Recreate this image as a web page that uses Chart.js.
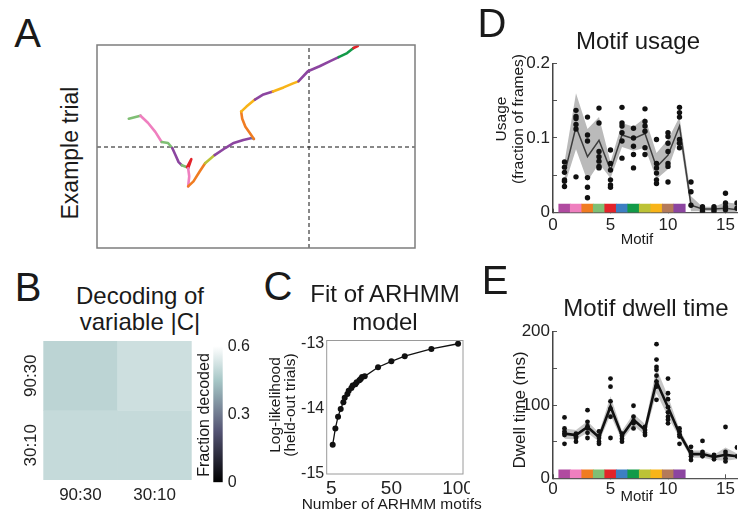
<!DOCTYPE html>
<html>
<head>
<meta charset="utf-8">
<script src="https://cdn.jsdelivr.net/npm/chart.js@4.4.1/dist/chart.umd.min.js"></script>
<style>
  html, body { margin: 0; padding: 0; background: #fff; }
  body { width: 740px; height: 512px; position: relative; overflow: hidden; }
  canvas { position: absolute; }
  .lbl { position: absolute; white-space: pre; text-align: center; font-family: 'Liberation Sans', Arial, sans-serif; color: #1a1a1a; }
</style>
</head>
<body>
<script>
'use strict';

// motif colours (strip under D / E, and the trajectory in A)
const motifColors = ['#b04aa0', '#ef7fbf', '#f07c22', '#7fbf74', '#e3232a', '#3d7fc2',
  '#129a48', '#bcc236', '#f8b418', '#b47a5a', '#8c45a0'];

// A - example trial
const trajX = [-1.70, -1.59, -1.52, -1.45, -1.39, -1.33, -1.29, -1.26, -1.23, -1.20, -1.15, -1.12, -1.11, -1.14, -1.13,
  -1.14, -1.09, -1.03, -0.98, -0.89, -0.79, -0.71, -0.62, -0.54, -0.52, -0.56, -0.60, -0.63, -0.64, -0.59,
  -0.51, -0.43, -0.34, -0.24, -0.15, -0.10, -0.01, 0.10, 0.20, 0.28, 0.36, 0.42, 0.46];
const trajY = [0.28, 0.31, 0.24, 0.15, 0.05, 0.04, -0.01, -0.08, -0.15, -0.18, -0.20, -0.14, -0.12, -0.21, -0.29,
  -0.39, -0.34, -0.24, -0.16, -0.08, -0.01, 0.04, 0.07, 0.09, 0.08, 0.14, 0.20, 0.28, 0.35, 0.40,
  0.47, 0.52, 0.55, 0.59, 0.63, 0.65, 0.75, 0.80, 0.85, 0.89, 0.93, 0.98, 1.00];
const trajMotif = [4, 2, 2, 2, 4, 4, 11, 11, 11, 4, 5, 5, 5, 2, 2, 3, 3, 3, 8, 11, 11, 11, 11, 6, 3, 3, 3, 3, 9, 9,
  11, 11, 9, 9, 9, 11, 11, 11, 11, 7, 7, 5, 5];
const trialXRange = [-2, 1];
const trialYRange = [-1, 1.01];
const crossX = 0;
const crossY = 0;

// B - decoding of |C|
const colLabels = ['90:30', '30:10'];
const rowLabels = ['90:30', '30:10'];
const rowPos = [1.5, 0.5];
const fracTop = [0.485, 0.515];
const fracBottom = [0.50, 0.50];
const cbRange = [0, 0.6];
const cbTop = 0.62;
const cbTicks = [0, 0.3, 0.6];
const cbTickLabels = ['0', '0.3', '0.6'];

// C - fit of ARHMM model
const nMotifs = [6, 8, 10, 12, 14, 15, 17, 18, 20, 21, 23, 24, 26, 27, 28, 30, 40, 50, 60, 80, 100];
const logLik = [-14.55, -14.30, -14.12, -14.00, -13.90, -13.83, -13.77, -13.72, -13.68, -13.64, -13.62,
  -13.59, -13.56, -13.54, -13.51, -13.50, -13.36, -13.27, -13.19, -13.08, -13.00];
const fitXTicks = [5, 50, 100];
const fitYTicks = [-15, -14, -13];

// D / E - per motif
const motifIdx = [1, 2, 3, 4, 5, 6, 7, 8, 9, 10, 11, 12, 13, 14, 15, 16];
const motifTicks = [0, 5, 10, 15];

const usageMean = [0.052, 0.115, 0.075, 0.097, 0.057, 0.104, 0.099, 0.106, 0.061, 0.077, 0.116, 0.010, 0.005, 0.005, 0.006, 0.004];
const usageUpper = [0.068, 0.160, 0.112, 0.128, 0.068, 0.120, 0.115, 0.127, 0.080, 0.098, 0.128, 0.022, 0.008, 0.008, 0.014, 0.012];
const usageLower = [0.036, 0.085, 0.042, 0.066, 0.046, 0.088, 0.083, 0.087, 0.045, 0.058, 0.102, 0.002, 0.002, 0.002, 0.001, 0.001];
const usageDots = [
  [0.068, 0.061, 0.054, 0.044, 0.042, 0.035],
  [0.137, 0.129, 0.126, 0.118, 0.112, 0.048],
  [0.128, 0.104, 0.096, 0.047, 0.034, 0.020],
  [0.140, 0.120, 0.082, 0.075, 0.069, 0.062, 0.060],
  [0.084, 0.066, 0.057, 0.044, 0.037, 0.034],
  [0.141, 0.120, 0.116, 0.107, 0.096, 0.073],
  [0.113, 0.100, 0.089, 0.078, 0.060],
  [0.139, 0.122, 0.116, 0.109, 0.087, 0.078],
  [0.098, 0.066, 0.060, 0.053, 0.044, 0.039],
  [0.107, 0.102, 0.093, 0.082, 0.066, 0.062, 0.041],
  [0.141, 0.134, 0.128, 0.098, 0.093, 0.087],
  [0.041, 0.028, 0.010],
  [0.008, 0.005, 0.002],
  [0.008, 0.005, 0.002],
  [0.026, 0.013, 0.008, 0.004],
  [0.013, 0.006]
];
const usageTicks = [0, 0.05, 0.1, 0.15, 0.2];
const usageTickLabels = ['0', '', '0.1', '', '0.2'];
const usageStrip = 0.0115;

const dwellMean = [61, 59, 70, 56, 98, 58, 80, 66, 132, 97, 61, 33, 33, 29, 32, 30];
const dwellUpper = [68, 66, 78, 62, 112, 65, 88, 74, 150, 112, 67, 38, 38, 32, 42, 34];
const dwellLower = [54, 53, 62, 50, 86, 52, 72, 59, 116, 84, 55, 28, 28, 25, 24, 26];
const dwellDots = [
  [83, 68, 64, 61, 59, 47],
  [61, 57, 55, 50],
  [93, 77, 71, 68, 62, 55],
  [64, 58, 55, 50, 47],
  [136, 125, 105, 95, 84, 55],
  [61, 58, 54, 50],
  [99, 84, 78, 75, 68],
  [70, 66, 62, 59],
  [183, 162, 152, 148, 140, 132, 125, 107],
  [136, 116, 108, 97, 90, 84, 80, 75],
  [68, 64, 60, 57, 47],
  [43, 36, 33, 30, 25],
  [51, 36, 33, 30],
  [32, 29, 26],
  [70, 36, 32, 27, 23],
  [42, 30]
];
const dwellTicks = [0, 50, 100, 150, 200];
const dwellTickLabels = ['0', '', '100', '', '200'];
const dwellStrip = 11.5;


Chart.defaults.font.family = "'Liberation Sans', Arial, sans-serif";
Chart.defaults.color = '#222';
Chart.defaults.animation = false;
Chart.defaults.responsive = false;
Chart.defaults.events = [];
Chart.defaults.plugins.legend.display = false;
Chart.defaults.plugins.tooltip.enabled = false;

// box round the plot area
const framePlugin = {
  id: 'frame',
  afterDatasetsDraw(chart, args, opts) {
    if (!opts.color) return;
    const a = chart.chartArea;
    const ctx = chart.ctx;
    ctx.save();
    ctx.strokeStyle = opts.color;
    ctx.lineWidth = opts.width || 1;
    ctx.strokeRect(a.left, a.top, a.right - a.left, a.bottom - a.top);
    ctx.restore();
  }
};

function makeCanvas(left, top, w, h) {
  const c = document.createElement('canvas');
  c.width = w;
  c.height = h;
  c.style.left = left + 'px';
  c.style.top = top + 'px';
  c.style.width = w + 'px';
  c.style.height = h + 'px';
  document.body.appendChild(c);
  return c.getContext('2d');
}

// axis with a fixed thickness so the plot area lands where we want
function fixed(size) {
  return function (s) {
    if (s.isHorizontal()) s.height = size; else s.width = size;
    s.paddingLeft = 0; s.paddingRight = 0; s.paddingTop = 0; s.paddingBottom = 0;
  };
}
function ticksAt(values) {
  return function (s) { s.ticks = values.map(v => ({ value: v })); };
}

// matlab "bone" colour map
function bone(t) {
  t = Math.max(0, Math.min(1, t));
  const clamp = v => Math.max(0, Math.min(1, v));
  const hr = clamp(t / 0.375), hg = clamp((t - 0.375) / 0.375), hb = clamp((t - 0.75) / 0.25);
  const r = (7 * t + hb) / 8, g = (7 * t + hg) / 8, b = (7 * t + hr) / 8;
  return 'rgb(' + Math.round(r * 255) + ',' + Math.round(g * 255) + ',' + Math.round(b * 255) + ')';
}
function fracColor(v) { return bone((v - cbRange[0]) / (cbRange[1] - cbRange[0])); }

function series(vals) { return vals.map((v, i) => ({ x: motifIdx[i], y: v })); }
function dotPoints(lists) {
  const pts = [];
  lists.forEach((vals, i) => vals.forEach(v => pts.push({ x: motifIdx[i], y: v })));
  return pts;
}
function strip(h) { return motifColors.map((c, i) => ({ x: motifIdx[i], y: [0, h] })); }


// ---- A ----
new Chart(makeCanvas(87, 35, 338, 223), {
  type: 'scatter',
  data: {
    datasets: [
      {
        type: 'line',
        data: trajX.map((x, i) => ({ x: x, y: trajY[i] })),
        borderColor: '#888',
        borderWidth: 2.6,
        pointRadius: 0,
        borderCapStyle: 'round',
        borderJoinStyle: 'round',
        segment: { borderColor: s => motifColors[trajMotif[s.p0DataIndex] - 1] }
      },
      {
        type: 'line',
        data: [{ x: crossX, y: trialYRange[0] }, { x: crossX, y: trialYRange[1] }],
        borderColor: '#111', borderWidth: 1, borderDash: [4, 3], pointRadius: 0
      },
      {
        type: 'line',
        data: [{ x: trialXRange[0], y: crossY }, { x: trialXRange[1], y: crossY }],
        borderColor: '#111', borderWidth: 1, borderDash: [4, 3], pointRadius: 0
      }
    ]
  },
  options: {
    layout: { padding: 10 },
    plugins: { frame: { color: '#7d7d7d', width: 1.5 } },
    scales: {
      x: { type: 'linear', display: false, min: trialXRange[0], max: trialXRange[1] },
      y: { type: 'linear', display: false, min: trialYRange[0], max: trialYRange[1] }
    }
  },
  plugins: [framePlugin]
});

// ---- B heat map ----
new Chart(makeCanvas(0, 335, 200, 177), {
  type: 'bar',
  data: {
    labels: colLabels,
    datasets: [
      { data: colLabels.map(() => [1, 2]), backgroundColor: fracTop.map(fracColor) },
      { data: colLabels.map(() => [0, 1]), backgroundColor: fracBottom.map(fracColor) }
    ]
  },
  options: {
    layout: { padding: { left: 0, top: 6, right: 8.3, bottom: 0 } },
    datasets: { bar: { grouped: false, barPercentage: 1, categoryPercentage: 1, borderWidth: 0 } },
    scales: {
      x: {
        afterFit: fixed(32),
        grid: { display: false, drawTicks: false },
        border: { display: false },
        ticks: { font: { size: 17 }, padding: 4.8 }
      },
      y: {
        min: 0, max: 2,
        afterFit: fixed(43.3),
        afterBuildTicks: ticksAt(rowPos),
        grid: { display: false, drawTicks: false },
        border: { display: false },
        ticks: {
          font: { size: 17 }, padding: -9, minRotation: 90, maxRotation: 90, crossAlign: 'center',
          callback: (v, i) => rowLabels[i]
        }
      }
    }
  }
});

// ---- B colour bar ----
new Chart(makeCanvas(205, 335, 50, 155), {
  type: 'bar',
  data: {
    labels: [''],
    datasets: [{
      data: [[cbRange[0], cbTop]],
      borderWidth: 0,
      barPercentage: 1,
      categoryPercentage: 1,
      backgroundColor: c => {
        const chart = c.chart;
        if (!chart.chartArea) return '#888';
        const y = chart.scales.y;
        const g = chart.ctx.createLinearGradient(0, y.getPixelForValue(cbRange[0]), 0, y.getPixelForValue(cbRange[1]));
        for (let k = 0; k <= 16; k++) g.addColorStop(k / 16, bone(k / 16));
        return g;
      }
    }]
  },
  options: {
    layout: { padding: { left: 8.3, top: 6.7, right: 0, bottom: 7.7 } },
    scales: {
      x: { display: false },
      y: {
        position: 'right',
        min: cbRange[0], max: cbTop,
        afterFit: fixed(32.3),
        afterBuildTicks: ticksAt(cbTicks),
        grid: { display: false, drawTicks: false },
        border: { display: false },
        ticks: { font: { size: 16 }, padding: 5, callback: (v, i) => cbTickLabels[i] }
      }
    }
  }
});

// ---- C ----
new Chart(makeCanvas(260, 330, 210, 175), {
  type: 'scatter',
  data: {
    datasets: [{
      type: 'line',
      data: nMotifs.map((n, i) => ({ x: n, y: logLik[i] })),
      borderColor: '#111',
      borderWidth: 1.3,
      pointRadius: 3,
      pointBackgroundColor: '#111',
      pointBorderWidth: 0
    }]
  },
  options: {
    layout: { padding: { left: 0, top: 10.5, right: 7, bottom: 0 } },
    plugins: { frame: { color: '#9a9a9a', width: 1 } },
    scales: {
      x: {
        type: 'linear', min: 1.5, max: 103.7,
        afterFit: fixed(31),
        afterBuildTicks: ticksAt(fitXTicks),
        grid: { display: false, drawTicks: false },
        border: { display: false },
        ticks: { font: { size: 19 }, padding: 3.6, callback: v => String(v) }
      },
      y: {
        type: 'linear', min: -15, max: -12.95,
        afterFit: fixed(66.7),
        afterBuildTicks: ticksAt(fitYTicks),
        grid: { display: false, drawTicks: false },
        border: { display: false },
        ticks: { font: { size: 16 }, padding: 2.5, callback: v => String(v) }
      }
    }
  },
  plugins: [framePlugin]
});

// ---- D and E ----
function motifChart(ctx, o) {
  return new Chart(ctx, {
    type: 'scatter',
    data: {
      datasets: [
        { type: 'line', data: series(o.lower), borderColor: 'transparent', borderWidth: 0, pointRadius: 0, fill: false, order: 5 },
        { type: 'line', data: series(o.upper), borderColor: 'transparent', borderWidth: 0, pointRadius: 0, fill: '-1', backgroundColor: o.band, order: 4 },
        { type: 'bar', data: strip(o.strip), backgroundColor: motifColors, borderWidth: 0, barPercentage: 1, categoryPercentage: 1, order: 3 },
        { type: 'line', data: series(o.mean), borderColor: o.lineColor, borderWidth: o.lineWidth, pointRadius: 0, order: 2 },
        { data: dotPoints(o.dots), backgroundColor: '#111', pointRadius: o.dotR, borderWidth: 0, order: 1 }
      ]
    },
    options: {
      layout: { padding: { left: 0, top: o.top, right: 0, bottom: 0 } },
      scales: {
        x: {
          type: 'linear', min: 0, max: 16, offset: false,
          afterFit: fixed(o.xh),
          afterBuildTicks: ticksAt(motifTicks),
          grid: { offset: false, drawOnChartArea: false, drawTicks: true, tickLength: -4, color: '#555' },
          border: { color: '#555', width: 1.3 },
          ticks: { font: { size: 17 }, padding: o.xpad, callback: v => String(v) }
        },
        y: {
          type: 'linear', min: 0, max: o.ymax,
          afterFit: fixed(63),
          afterBuildTicks: ticksAt(o.yticks),
          grid: { drawOnChartArea: false, drawTicks: true, tickLength: -4, color: '#555' },
          border: { color: '#444', width: 1.5 },
          ticks: { font: { size: 17 }, padding: 7, callback: (v, i) => o.ylabels[i] }
        }
      }
    }
  });
}

motifChart(makeCanvas(490, 15, 251, 235), {
  lower: usageLower, upper: usageUpper, mean: usageMean, dots: usageDots, strip: usageStrip,
  band: '#bababa', lineColor: '#3c3c3c', lineWidth: 1.5, dotR: 2.7,
  top: 48.3, xh: 37.3, xpad: 6.6, ymax: 0.2, yticks: usageTicks, ylabels: usageTickLabels
});

motifChart(makeCanvas(490, 320, 251, 190), {
  lower: dwellLower, upper: dwellUpper, mean: dwellMean, dots: dwellDots, strip: dwellStrip,
  band: '#c6c6c6', lineColor: '#111', lineWidth: 2.6, dotR: 2.4,
  top: 11.7, xh: 31.7, xpad: 4.5, ymax: 200, yticks: dwellTicks, ylabels: dwellTickLabels
});


// ---- titles, axis names and panel letters ----
function txt(s, x, y, size, rot, lh) {
  const d = document.createElement('div');
  d.className = 'lbl';
  d.textContent = s;
  d.style.left = x + 'px';
  d.style.top = y + 'px';
  d.style.fontSize = size + 'px';
  d.style.lineHeight = (lh || size) + 'px';
  d.style.transform = 'translate(-50%, -50%)' + (rot ? ' rotate(' + rot + 'deg)' : '');
  document.body.appendChild(d);
}

txt('A', 27.5, 33, 40);
txt('B', 28, 287, 40);
txt('C', 278, 286, 40);
txt('D', 492, 23, 40);
txt('E', 495, 279.5, 40);

txt('Example trial', 70, 152.5, 23, -90);
txt('Decoding of\nvariable |C|', 140, 308.5, 24, 0, 26);
txt('Fraction decoded', 204, 415, 16, -90);
txt('Fit of ARHMM\nmodel', 385, 307, 24, 0, 27.5);
txt('Log-likelihood\n(held-out trials)', 282, 405, 15.5, -90, 15);
txt('Number of ARHMM motifs', 391.7, 504, 15.5);
txt('Motif usage', 638, 40.5, 24);
txt('Usage\n(fraction of frames)', 509, 119, 15.5, -90, 17);
txt('Motif', 637, 238, 15);
txt('Motif dwell time', 646, 308, 24);
txt('Dwell time (ms)', 519, 410, 17, -90);
txt('Motif', 636.7, 495, 15);
</script>
</body>
</html>
